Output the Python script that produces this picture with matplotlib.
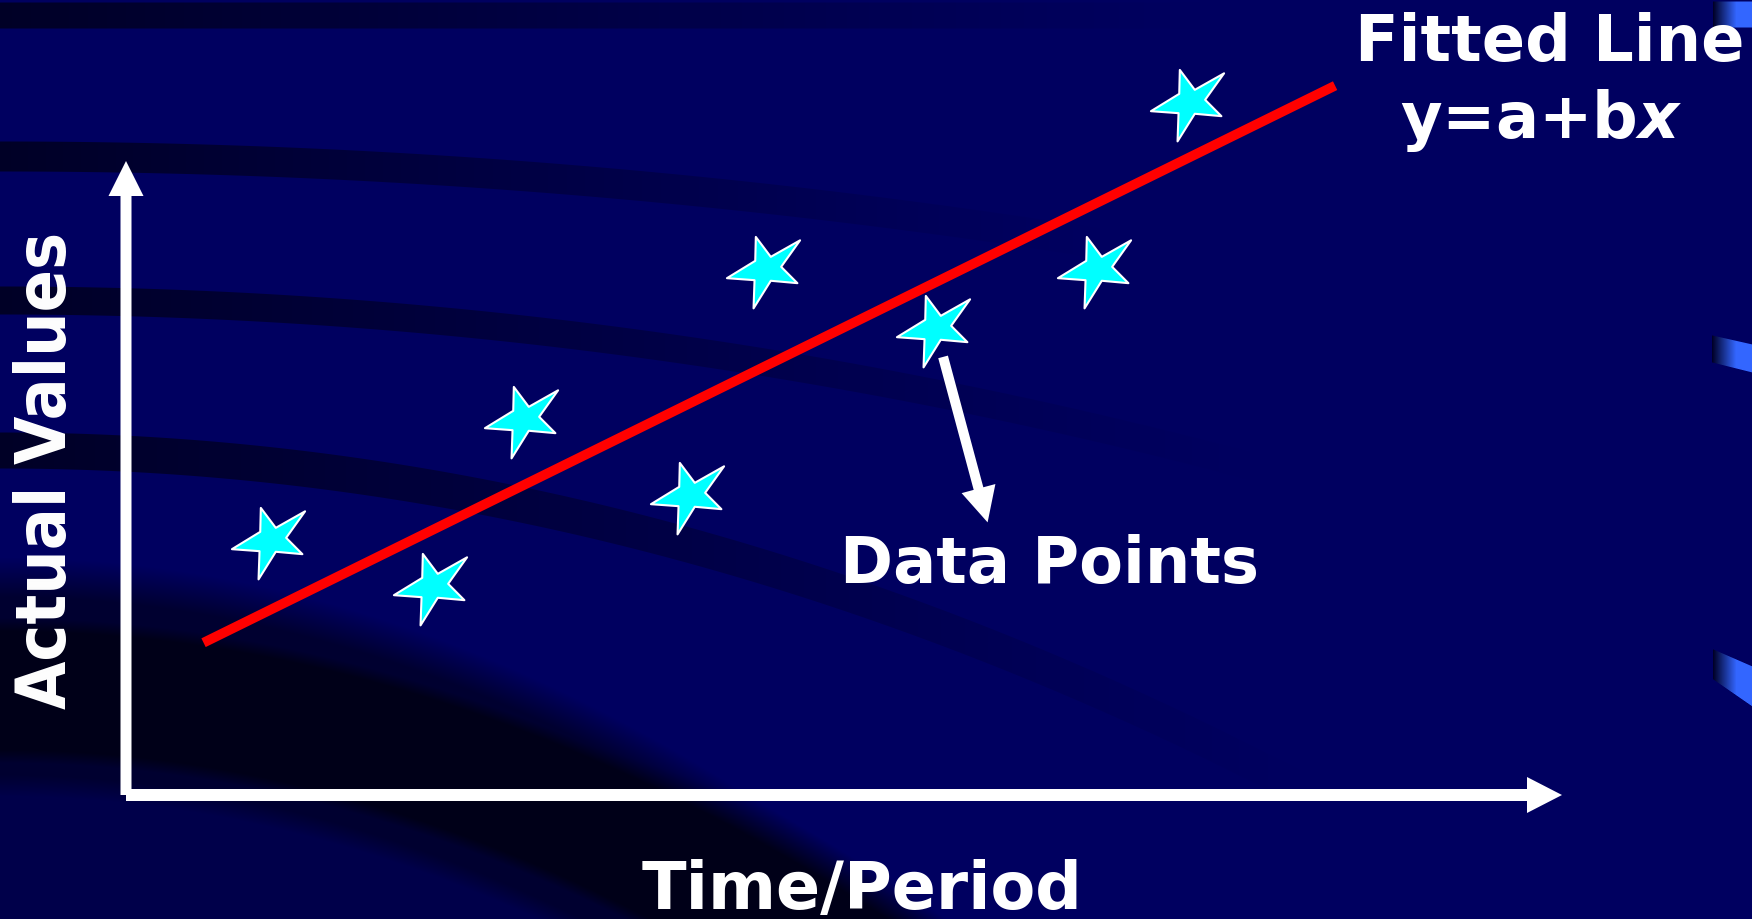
import numpy as np
import matplotlib
matplotlib.use("Agg")
import matplotlib.pyplot as plt
from matplotlib.patches import FancyArrowPatch, ArrowStyle
from matplotlib.path import Path
from matplotlib.markers import MarkerStyle

# 数据点 (Time/Period, Actual Values)
time_x = [1.01, 2.14, 2.77, 3.93, 4.46, 5.64, 6.76, 7.41]
actual_y = [3.98, 3.25, 5.88, 4.69, 8.25, 7.32, 8.25, 10.88]

# 拟合直线 y = a + b x
fit_a = 1.80
fit_b = 1.115
fit_x = [0.54, 8.42]

x_label = "Time/Period"
y_label = "Actual Values"
fit_title = "Fitted Line"
fit_eq = "y=a+b$x$"
points_label = "Data Points"

plt.rcParams['font.family'] = 'DejaVu Sans'
plt.rcParams['mathtext.fontset'] = 'custom'
plt.rcParams['mathtext.rm'] = 'DejaVu Sans:bold'
plt.rcParams['mathtext.it'] = 'DejaVu Sans:bold:italic'

W, H = 1752, 920
fig = plt.figure(figsize=(W / 100, H / 100), dpi=100)

# ---- 背景 (深蓝 + 弧形暗带) ----
yy, xx = np.mgrid[0:H, 0:W].astype(float)
shade = np.zeros((H, W))


def between(top, bot, soft=1.0):
    return np.clip((yy - top) / soft + 0.5, 0, 1) * np.clip((bot - yy) / soft + 0.5, 0, 1)


# (中心y, 弯曲系数, 半宽, 渐隐长度)
for y0, k, hw, fade in [(16, 0, 13, 1200), (157, 7.2e-5, 15, 1100),
                        (301, 1.06e-4, 14, 1250), (451, 2.0e-4, 18, 1300)]:
    yc = y0 + k * xx ** 2
    m = between(yc - hw, yc + hw) * np.clip(1 - xx / fade, 0, 1) ** 1.1
    shade = np.maximum(shade, 0.6 * m)

# 左下角大片暗区
edge = 578 + 4.25e-4 * xx ** 2
shade = np.maximum(shade, 0.22 * between(edge, 5000))
shade = np.maximum(shade, 0.5 * between(edge, 795 + 4.25e-4 * xx ** 2, 40))
shade = np.maximum(shade, 0.75 * between(612 + 3.66e-4 * xx ** 2, 770 + 4.0e-4 * xx ** 2, 40))

base = np.array([0, 0, 96]) / 255
img = (1 - shade)[..., None] * base[None, None, :]

# 右侧蓝色装饰
blue = np.array([51, 102, 255]) / 255
dark = np.array([0, 0, 40]) / 255
for x0, t0, t1, b0, b1 in [(1713, 2, 2, 28, 28), (1712, 336, 345, 363, 373),
                           (1713, 650, 667, 680, 707)]:
    t = np.clip((xx - x0) / (W - x0), 0, 1)
    top = t0 + (t1 - t0) * t
    bot = b0 + (b1 - b0) * t
    m = between(top, bot) * (xx >= x0)
    tt = np.clip(t * 1.7, 0, 1)[..., None]
    col = dark * (1 - tt) + blue * tt
    img = img * (1 - m[..., None]) + col * m[..., None]

bg = fig.add_axes([0, 0, 1, 1])
bg.imshow(img, extent=(0, W, H, 0), aspect='auto', interpolation='bilinear')
bg.axis('off')

# ---- 主坐标 ----
ax = fig.add_axes([126 / W, 1 - 796 / H, 1436 / W, 634 / H])
ax.set_xlim(0, 10)
ax.set_ylim(0, 10)
ax.axis('off')
ax.patch.set_alpha(0)


def arrow(p0, p1, head_len, head_w, tail_w):
    st = ArrowStyle('simple', head_length=head_len, head_width=head_w, tail_width=tail_w)
    a = FancyArrowPatch(p0, p1, arrowstyle=st, mutation_scale=0.72, color='white',
                        lw=0, shrinkA=0, shrinkB=0, clip_on=False, zorder=3)
    ax.add_patch(a)


arrow((0, 0), (10, 0), 35, 36, 12)
arrow((0, 0), (0, 10), 35, 35, 11)

# 拟合直线
fx = np.array(fit_x)
ax.plot(fx, fit_a + fit_b * fx, color='#ff0000', lw=7, solid_capstyle='butt',
        clip_on=False, zorder=4)

# 星形标记
star = np.array([(-10.7, -35.7), (4.3, -15.7), (33.7, -32.3), (14.7, -5.7), (31, 10.7),
                 (4.3, 8.3), (-13, 36), (-12, 7.7), (-39.7, 5.7), (-11.3, -11.7)])
star[:, 1] *= -1
star = np.vstack([star, star[:1]])
star_marker = MarkerStyle(Path(star, closed=True), joinstyle='miter')
ax.plot(time_x, actual_y, ls='none', marker=star_marker, markersize=57,
        markerfacecolor='#00ffff', markeredgecolor='white', markeredgewidth=1.5,
        clip_on=False, zorder=5)

# 指向数据点的箭头
arrow((5.69, 6.91), (6.00, 4.30), 35, 35, 10)

# ---- 文字 ----
tkw = dict(color='white', fontweight='bold')
fig.text(1550 / W, 1 - 61 / H, fit_title, ha='center', va='baseline', fontsize=46, **tkw)
fig.text(1541 / W, 1 - 138 / H, fit_eq, ha='center', va='baseline', fontsize=46, **tkw)
fig.text(1049 / W, 1 - 583 / H, points_label, ha='center', va='baseline', fontsize=46, **tkw)
fig.text(862 / W, 1 - 909 / H, x_label, ha='center', va='baseline', fontsize=47, **tkw)
fig.text(66 / W, 1 - 470 / H, y_label, rotation=90, rotation_mode='anchor',
         ha='center', va='baseline', fontsize=50, fontstretch='condensed', **tkw)

fig.savefig('out.png', dpi=100)
